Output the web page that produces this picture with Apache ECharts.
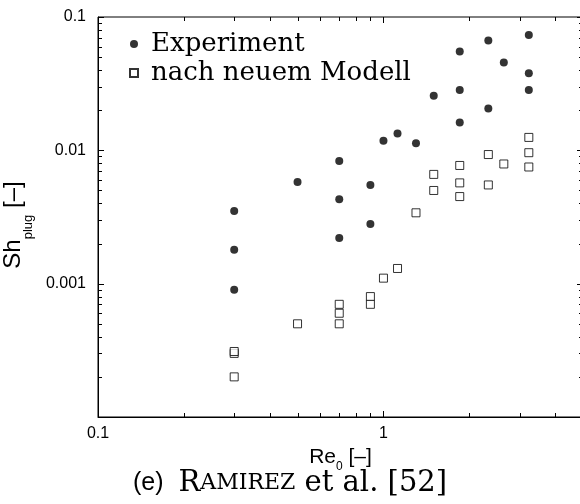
<!DOCTYPE html>
<html>
<head>
<meta charset="utf-8">
<script src="https://cdn.jsdelivr.net/npm/echarts@6/dist/echarts.min.js"></script>
<style>
html, body { margin: 0; padding: 0; background: #fff; }
#main { width: 580px; height: 504px; }
</style>
</head>
<body>
<div id="main"></div>
<script>
var expRe = [0.3, 0.3, 0.3, 0.5, 0.7, 0.7, 0.7, 0.9, 0.9, 1.0, 1.12, 1.3, 1.5, 1.85, 1.85, 1.85, 2.33, 2.33, 2.64, 3.23, 3.23, 3.23]
var expSh = [0.0035, 0.0018, 0.0009, 0.0058, 0.0083, 0.0043, 0.0022, 0.0055, 0.0028, 0.0118, 0.0134, 0.0113, 0.0257, 0.055, 0.0284, 0.0162, 0.0665, 0.0206, 0.0455, 0.0733, 0.0379, 0.0284]

// nach neuem Modell
var modRe = [0.3, 0.3, 0.3, 0.5, 0.7, 0.7, 0.7, 0.9, 0.9, 1.0, 1.12, 1.3, 1.5, 1.5, 1.85, 1.85, 1.85, 2.33, 2.33, 2.64, 3.23, 3.23, 3.23]
var modSh = [0.0003, 0.00031, 0.0002, 0.0005, 0.0007, 0.0006, 0.0005, 0.0008, 0.0007, 0.0011, 0.0013, 0.0034, 0.0066, 0.005, 0.0077, 0.0057, 0.0045, 0.0093, 0.0055, 0.0079, 0.0125, 0.0096, 0.0075]

// Achsen
var xRange = [0.1, 5]
var yRange = [0.0001, 0.1]
var xMajor = [0.1, 1]
var xMinor = [0.2, 0.3, 0.4, 0.5, 0.6, 0.7, 0.8, 0.9, 2, 3, 4]
var yMajor = [0.0001, 0.001, 0.01, 0.1]
var yMinor = [0.0002, 0.0003, 0.0004, 0.0005, 0.0006, 0.0007, 0.0008, 0.0009,
  0.002, 0.003, 0.004, 0.005, 0.006, 0.007, 0.008, 0.009,
  0.02, 0.03, 0.04, 0.05, 0.06, 0.07, 0.08, 0.09]

function zip(a, b) {
  return a.map(function(v, i) { return [v, b[i]] })
}

// tick marks on all four sides (inside), [x, y, side, length]
var tickData = []
xMajor.forEach(function(v) { tickData.push([v, yRange[0], 0, 6]) })
xMinor.forEach(function(v) { tickData.push([v, yRange[0], 0, 4]) })
yMajor.forEach(function(v) { tickData.push([xRange[0], v, 1, 6]) })
yMinor.forEach(function(v) { tickData.push([xRange[0], v, 1, 4]) })

function renderTick(params, api) {
  var cs = params.coordSys
  var p = api.coord([api.value(0), api.value(1)])
  var len = api.value(3)
  var style = { stroke: '#000', lineWidth: 1 }
  if (api.value(2) === 0) {
    var x = Math.round(p[0]) + 0.5
    var yb = cs.y + cs.height
    return {
      type: 'group',
      children: [
        { type: 'line', shape: { x1: x, y1: yb, x2: x, y2: yb - len }, style: style },
        { type: 'line', shape: { x1: x, y1: cs.y, x2: x, y2: cs.y + len }, style: style }
      ]
    }
  }
  var y = Math.round(p[1]) + 0.5
  var xr = cs.x + cs.width
  return {
    type: 'group',
    children: [
      { type: 'line', shape: { x1: cs.x, y1: y, x2: cs.x + len, y2: y }, style: style },
      { type: 'line', shape: { x1: xr, y1: y, x2: xr - len, y2: y }, style: style }
    ]
  }
}

function fmt(v) {
  return String(Number(v.toPrecision(3)))
}

var chart = echarts.init(document.getElementById('main'))

var option = {
  animation: false,
  backgroundColor: '#fff',
  title: {
    text: '{sf|(e)}{sp|}{r|R}{sc|AMIREZ}{r| et al. [52]}',
    left: 'center',
    top: 464,
    textStyle: {
      rich: {
        sf: { fontFamily: 'Liberation Sans', fontSize: 25, color: '#000', fontWeight: 'normal' },
        sp: { width: 15 },
        r: { fontFamily: 'DejaVu Serif', fontSize: 29, color: '#000', fontWeight: 'normal' },
        sc: { fontFamily: 'DejaVu Serif', fontSize: 22, color: '#000', fontWeight: 'normal' }
      }
    }
  },
  legend: {
    orient: 'vertical',
    left: 129,
    top: 30,
    padding: 0,
    itemGap: 1,
    itemWidth: 8,
    itemHeight: 8,
    selectedMode: false,
    textStyle: { fontFamily: 'DejaVu Serif', fontSize: 26, color: '#000', lineHeight: 28, padding: [0, 0, 0, 8] },
    data: [
      { name: 'Experiment', icon: 'circle', itemStyle: { color: '#000' } },
      { name: 'nach neuem Modell', icon: 'rect' }
    ]
  },
  grid: {
    left: 98,
    top: 17,
    width: 485,
    height: 400,
    containLabel: false,
    outerBoundsMode: 'none',
    show: true,
    borderColor: '#000',
    borderWidth: 1
  },
  xAxis: {
    type: 'log',
    logBase: 10,
    min: xRange[0],
    max: xRange[1],
    name: '{m|Re}{s|0}{m| [–]}',
    nameLocation: 'middle',
    nameGap: 22,
    nameTextStyle: {
      rich: {
        m: { fontFamily: 'Liberation Sans', fontSize: 21, color: '#000', lineHeight: 23, verticalAlign: 'top' },
        s: { fontFamily: 'Liberation Sans', fontSize: 12, color: '#000', lineHeight: 26, verticalAlign: 'bottom' }
      }
    },
    axisLine: { show: true, lineStyle: { color: '#000', width: 1 } },
    axisTick: { show: false },
    splitLine: { show: false },
    axisLabel: {
      fontFamily: 'Liberation Sans',
      fontSize: 16,
      color: '#000',
      margin: 9,
      showMaxLabel: false,
      formatter: fmt
    }
  },
  yAxis: {
    type: 'log',
    logBase: 10,
    min: yRange[0],
    max: yRange[1],
    name: '{m|Sh}{s|plug}{m| [–]}',
    nameLocation: 'middle',
    nameRotate: 90,
    nameGap: 52,
    nameTextStyle: {
      padding: [0, 16, 0, 0],
      rich: {
        m: { fontFamily: 'Liberation Sans', fontSize: 24, color: '#000', lineHeight: 26, verticalAlign: 'top' },
        s: { fontFamily: 'Liberation Sans', fontSize: 13, color: '#000', lineHeight: 34, verticalAlign: 'bottom' }
      }
    },
    axisLine: { show: true, lineStyle: { color: '#000', width: 1 } },
    axisTick: { show: false },
    splitLine: { show: false },
    axisLabel: {
      fontFamily: 'Liberation Sans',
      fontSize: 16,
      color: '#000',
      margin: 12,
      showMinLabel: false,
      formatter: fmt
    }
  },
  series: [
    {
      name: 'Experiment',
      type: 'scatter',
      symbol: 'circle',
      symbolSize: 8,
      itemStyle: { color: '#000' },
      data: zip(expRe, expSh)
    },
    {
      name: 'nach neuem Modell',
      type: 'scatter',
      symbol: 'rect',
      symbolSize: 8,
      itemStyle: { color: '#fff', borderColor: '#000', borderWidth: 1 },
      data: zip(modRe, modSh)
    },
    {
      type: 'custom',
      silent: true,
      clip: false,
      z: 5,
      renderItem: renderTick,
      encode: { x: 0, y: 1 },
      data: tickData
    }
  ]
}

chart.setOption(option)
</script>
</body>
</html>
